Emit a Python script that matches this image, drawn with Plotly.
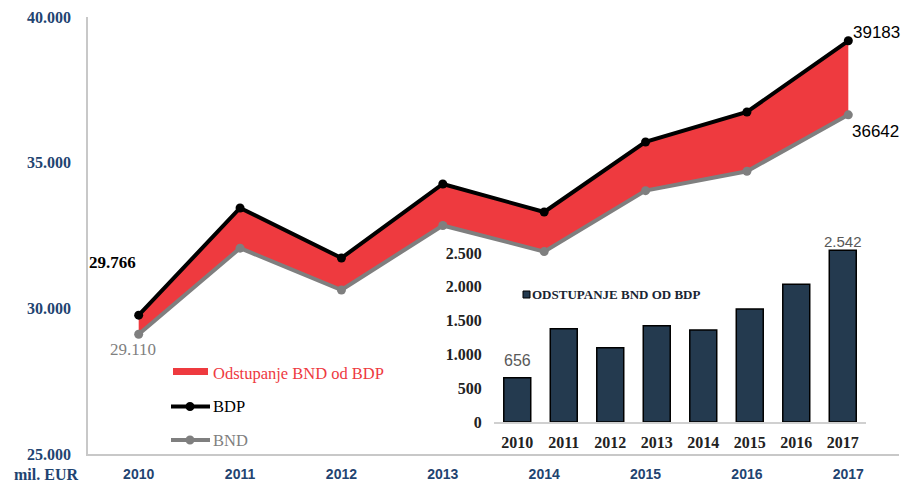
import plotly.graph_objects as go

years = ["2010", "2011", "2012", "2013", "2014", "2015", "2016", "2017"]
bdp = [29766, 33445, 31728, 34269, 33308, 35711, 36741, 39183]
bnd = [29110, 32065, 30629, 32844, 31947, 34039, 34705, 36642]
odstupanje = [656, 1380, 1099, 1425, 1361, 1672, 2036, 2542]

main_yticks = [25000, 30000, 35000, 40000]
main_yticktext = ["25.000", "30.000", "35.000", "40.000"]
inset_yticks = [0, 500, 1000, 1500, 2000, 2500]
inset_yticktext = ["0", "500", "1.000", "1.500", "2.000", "2.500"]

OFF = 8  # page body margin
W, H = 909 - OFF, 483 - OFF
def px(x):
    return (x - OFF) / W
def py(y):
    return 1 - (y - OFF) / H

BLUE = "#1f4471"
RED = "#ee3a3f"
GRAY = "#7f7f7f"
NAVY = "#243a4f"

fig = go.Figure()

# red band (fill only)
fig.add_trace(go.Scatter(x=years, y=bnd, mode="lines", line=dict(width=0, color=RED),
                         showlegend=False, hoverinfo="skip"))
fig.add_trace(go.Scatter(x=years, y=bdp, mode="lines", line=dict(width=0, color=RED),
                         fill="tonexty", fillcolor=RED, showlegend=False, hoverinfo="skip"))
# lines
fig.add_trace(go.Scatter(x=years, y=bnd, mode="lines+markers", name="BND",
                         line=dict(color=GRAY, width=4), marker=dict(color=GRAY, size=9),
                         showlegend=False))
fig.add_trace(go.Scatter(x=years, y=bdp, mode="lines+markers", name="BDP",
                         line=dict(color="black", width=4), marker=dict(color="black", size=9),
                         showlegend=False))

# inset bars
fig.add_trace(go.Bar(x=years, y=odstupanje, xaxis="x2", yaxis="y2", width=0.58,
                     marker=dict(color=NAVY, line=dict(color="black", width=1.5)),
                     showlegend=False))

fig.update_layout(
    width=W, height=H,
    margin=dict(l=0, r=0, t=0, b=0),
    paper_bgcolor="white", plot_bgcolor="rgba(0,0,0,0)",
    xaxis=dict(domain=[px(88), px(899)], type="category", range=[-0.5, 7.5], automargin=False,
               showline=True, linecolor="#c8c8c8", linewidth=1.5, showgrid=False,
               ticks="outside", ticklen=6, tickcolor="rgba(0,0,0,0)",
               tickfont=dict(family="Liberation Sans", size=14, color=BLUE, weight="bold"),
               zeroline=False),
    yaxis=dict(domain=[py(454), py(17)], range=[25000, 40000], automargin=False,
               tickvals=main_yticks, ticktext=main_yticktext,
               showline=True, linecolor="#c8c8c8", linewidth=1.5, showgrid=False,
               ticks="outside", ticklen=12, tickcolor="rgba(0,0,0,0)",
               tickfont=dict(family="Liberation Serif", size=16, color=BLUE, weight="bold"),
               zeroline=False),
    xaxis2=dict(domain=[px(494), px(866)], anchor="y2", type="category", range=[-0.5, 7.5],
                automargin=False,
                showline=True, linecolor="#d0d0d0", linewidth=1.5, showgrid=False,
                ticks="outside", ticklen=5, tickcolor="rgba(0,0,0,0)",
                tickfont=dict(family="Liberation Serif", size=16, color="#222222", weight="bold"),
                zeroline=False),
    yaxis2=dict(domain=[py(422), py(422 - 2800 * 0.0676)], anchor="x2", range=[0, 2800],
                automargin=False,
                tickvals=inset_yticks, ticktext=inset_yticktext,
                showline=False, showgrid=False,
                ticks="outside", ticklen=8, tickcolor="rgba(0,0,0,0)",
                tickfont=dict(family="Liberation Serif", size=16, color="#222222", weight="bold"),
                zeroline=False),
)

first, last = 0, len(years) - 1
C = dict(xanchor="center", yanchor="middle", showarrow=False)
ann = []
# data labels main
ann.append(dict(x=first, y=bdp[first], xref="x", yref="y", text="<b>29.766</b>",
                xshift=-26, yshift=53, font=dict(family="Liberation Serif", size=17, color="black"), **C))
ann.append(dict(x=first, y=bnd[first], xref="x", yref="y", text="29.110",
                xshift=-6, yshift=-15, font=dict(family="Liberation Serif", size=17, color=GRAY), **C))
ann.append(dict(x=last, y=bdp[last], xref="x", yref="y", text=str(bdp[last]),
                xshift=28, yshift=8, font=dict(family="Liberation Sans", size=17, color="black"), **C))
ann.append(dict(x=last, y=bnd[last], xref="x", yref="y", text=str(bnd[last]),
                xshift=27, yshift=-17, font=dict(family="Liberation Sans", size=17, color="black"), **C))
# inset data labels
ann.append(dict(x=first, y=odstupanje[first], xref="x2", yref="y2", text=str(odstupanje[first]),
                showarrow=False, xanchor="center", yanchor="bottom", yshift=7,
                font=dict(family="Liberation Sans", size=16, color="#595959")))
ann.append(dict(x=last, y=odstupanje[last], xref="x2", yref="y2", text="2.542",
                showarrow=False, xanchor="center", yanchor="bottom", yshift=-2,
                font=dict(family="Liberation Sans", size=15, color="#595959")))
# axis unit label
ann.append(dict(x=px(46), y=py(474), xref="paper", yref="paper", text="<b>mil. EUR</b>",
                font=dict(family="Liberation Serif", size=16, color=BLUE), **C))
# legend texts
L = dict(xanchor="left", yanchor="middle", showarrow=False, xref="paper", yref="paper")
ann.append(dict(x=px(211), y=py(373), text="Odstupanje BND od BDP",
                font=dict(family="Liberation Serif", size=16.5, color=RED), **L))
ann.append(dict(x=px(211), y=py(406), text="BDP",
                font=dict(family="Liberation Serif", size=16.5, color="black"), **L))
ann.append(dict(x=px(211), y=py(440), text="BND",
                font=dict(family="Liberation Serif", size=16.5, color=GRAY), **L))
ann.append(dict(x=px(530), y=py(294), text="<b>ODSTUPANJE BND OD BDP</b>",
                font=dict(family="Liberation Serif", size=13, color="#1a2533"), **L))

shapes = []
shapes.append(dict(type="rect", xref="paper", yref="paper", x0=px(173), x1=px(208),
                   y0=py(375), y1=py(368), fillcolor=RED, line=dict(width=0)))
for yy, col in [(406.5, "black"), (440, GRAY)]:
    shapes.append(dict(type="line", xref="paper", yref="paper", x0=px(171), x1=px(210),
                       y0=py(yy), y1=py(yy), line=dict(color=col, width=4)))
    shapes.append(dict(type="circle", xref="paper", yref="paper", xsizemode="pixel",
                       ysizemode="pixel", xanchor=px(190), yanchor=py(yy),
                       x0=-4.5, x1=4.5, y0=-4.5, y1=4.5, fillcolor=col, line=dict(width=0)))
shapes.append(dict(type="rect", xref="paper", yref="paper", x0=px(523), x1=px(530),
                   y0=py(298), y1=py(291), fillcolor=NAVY, line=dict(color="black", width=1)))

fig.update_layout(annotations=ann, shapes=shapes)
fig.write_html("out.html")
